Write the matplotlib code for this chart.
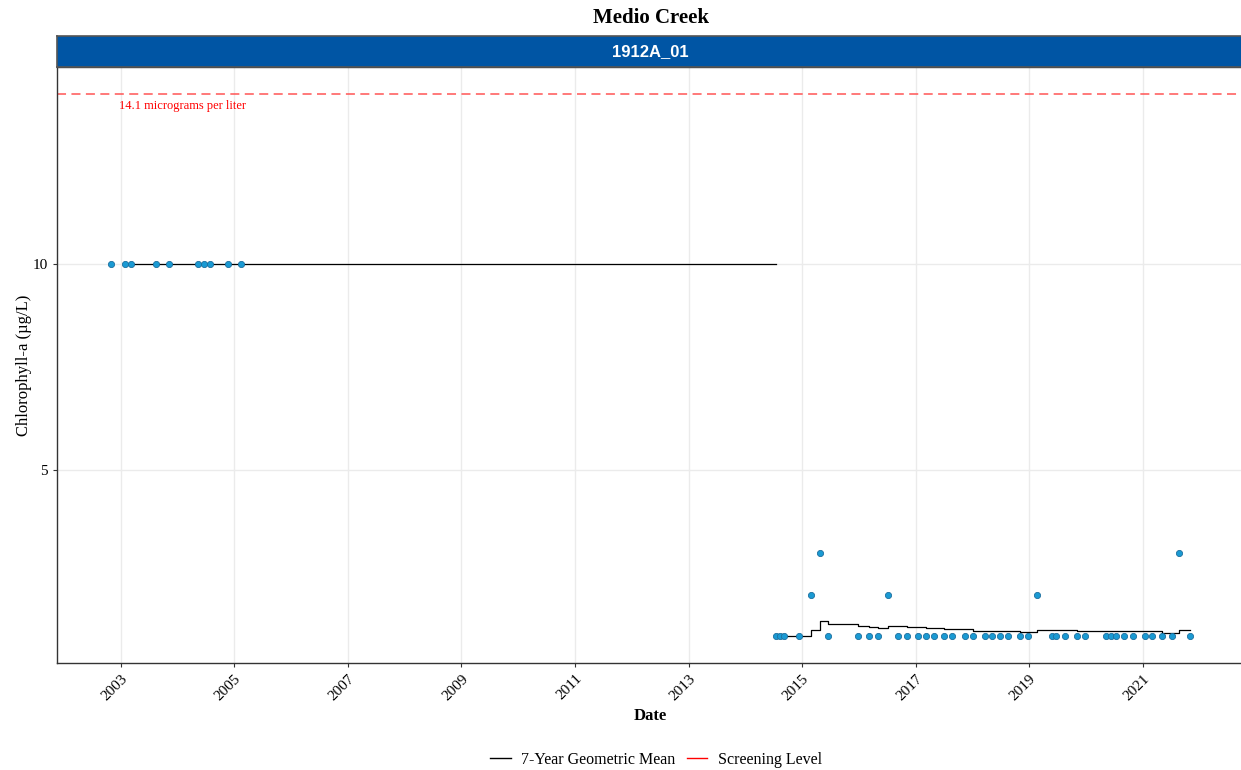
#!/usr/bin/env python

# Medio Creek chlorophyll-a, station 1912A_01.
#  Samples as points, 7-year geometric mean as a step line.

import numpy
import pandas
import matplotlib
matplotlib.use('Agg')
import matplotlib.pyplot as plt
import matplotlib.dates as mdates
from matplotlib.lines import Line2D

# Samples (date, value in ug/L)
early_dates = ["2002-10-30", "2003-01-31", "2003-03-10", "2003-08-18", "2003-11-07",
               "2004-05-14", "2004-06-21", "2004-07-30", "2004-11-18", "2005-02-15"]
early_vals = [10, 10, 10, 10, 10, 10, 10, 10, 10, 10]

late_dates = ["2014-07-18", "2014-08-13", "2014-09-08", "2014-12-15", "2015-02-28",
              "2015-04-27", "2015-06-19", "2015-12-29", "2016-03-09", "2016-05-02",
              "2016-07-06", "2016-09-06", "2016-11-07", "2017-01-17", "2017-03-09",
              "2017-04-28", "2017-06-29", "2017-08-23", "2017-11-15", "2018-01-04",
              "2018-03-26", "2018-05-05", "2018-06-28", "2018-08-20", "2018-11-03",
              "2018-12-23", "2019-02-23", "2019-05-30", "2019-06-21", "2019-08-22",
              "2019-11-05", "2019-12-25", "2020-05-10", "2020-06-09", "2020-07-11",
              "2020-09-05", "2020-10-31", "2021-01-14", "2021-02-26", "2021-05-06",
              "2021-07-07", "2021-08-25", "2021-11-01"]
late_vals = [1, 1, 1, 1, 2,
             3, 1, 1, 1, 1,
             2, 1, 1, 1, 1,
             1, 1, 1, 1, 1,
             1, 1, 1, 1, 1,
             1, 2, 1, 1, 1,
             1, 1, 1, 1, 1,
             1, 1, 1, 1, 1,
             1, 3, 1]

# 7-year geometric mean (step changes)
gm_early_dates = ["2003-01-31", "2014-07-18"]
gm_early_vals = [10, 10]
gm_late_dates = ["2014-07-18", "2015-02-28", "2015-04-27", "2015-06-19", "2015-12-29",
                 "2016-03-09", "2016-05-02", "2016-07-06", "2016-09-06", "2016-11-07",
                 "2017-03-09", "2017-06-29", "2018-01-04", "2018-11-03", "2019-02-23",
                 "2019-11-05", "2021-05-06", "2021-08-25", "2021-11-01"]
gm_late_vals = [1.00, 1.15, 1.35, 1.29, 1.25,
                1.22, 1.19, 1.25, 1.23, 1.21,
                1.19, 1.16, 1.13, 1.10, 1.14,
                1.11, 1.07, 1.14, 1.14]

screening = 14.1
x_ticks = [2003, 2005, 2007, 2009, 2011, 2013, 2015, 2017, 2019, 2021]

serif = 'Liberation Serif'
plt.rcParams['font.family'] = serif

fig = plt.figure(figsize=(12.41, 7.70), dpi=100, facecolor='white')

W, H = 1241.0, 770.0
ax = fig.add_axes([57/W, 1-663/H, (1244-57)/W, (663-67)/H])
ax.set_facecolor('white')

xmin = pandas.Timestamp("2001-11-17")
xmax = pandas.Timestamp("2022-10-14")
ax.set_xlim(xmin, xmax)
ax.set_ylim(0.345, 14.755)

ax.set_xticks([pandas.Timestamp("%d-01-01" % y) for y in x_ticks])
ax.xaxis.set_major_formatter(mdates.DateFormatter('%Y'))
ax.set_yticks([5, 10])
ax.grid(True, color='#ebebeb', linewidth=1.0, zorder=0)
ax.set_axisbelow(True)
for lab in ax.get_xticklabels():
    lab.set_rotation(45)
    lab.set_ha('right')
    lab.set_rotation_mode('anchor')
ax.tick_params(axis='both', labelsize=11, colors='#333333', length=3,
               labelcolor='black')
for s in ax.spines.values():
    s.set_color('#333333')
    s.set_linewidth(1.0)

# Screening level
ax.axhline(screening, color='#ff5555', linestyle=(0, (5, 3)), linewidth=1.3,
           alpha=0.85, zorder=2)
ax.text(pandas.Timestamp("2002-12-20"), 13.80, "14.1 micrograms per liter",
        color='red', fontsize=9, ha='left', va='center', family=serif)

# Geometric mean
ax.step(pandas.to_datetime(gm_early_dates), gm_early_vals, where='post',
        color='black', linewidth=0.9, zorder=3)
ax.step(pandas.to_datetime(gm_late_dates), gm_late_vals, where='post',
        color='black', linewidth=0.9, zorder=3)

# Samples
ax.scatter(pandas.to_datetime(early_dates), early_vals, s=20,
           facecolor='#1a9ad3', edgecolor='#1d6f9e', linewidth=0.6, zorder=4)
ax.scatter(pandas.to_datetime(late_dates), late_vals, s=20,
           facecolor='#1a9ad3', edgecolor='#1d6f9e', linewidth=0.6, zorder=4)

ax.set_xlabel('Date', fontsize=12, fontweight='bold', labelpad=4)
ax.set_ylabel('Chlorophyll-a (\u00b5g/L)', fontsize=12, labelpad=0.5)

# Facet strip
sx = fig.add_axes([57/W, 1-67/H, (1244-57)/W, 31/H])
sx.set_xticks([])
sx.set_yticks([])
sx.set_facecolor('#0055a4')
for s in sx.spines.values():
    s.set_color('#555555')
    s.set_linewidth(1.2)
sx.text(0.5, 0.5, '1912A_01', color='white', fontsize=12, fontweight='bold',
        ha='center', va='center', family='Liberation Sans',
        transform=sx.transAxes)

fig.text(651/W, 1-18/H, 'Medio Creek', fontsize=15, fontweight='bold',
         ha='center', va='center', family=serif)

handles = [Line2D([], [], color='black', linewidth=1.0),
           Line2D([], [], color='red', linewidth=1.0)]
fig.legend(handles, ['7-Year Geometric Mean', 'Screening Level'],
           loc='center', bbox_to_anchor=(656/W, 1-760/H), ncol=2,
           frameon=False, fontsize=11.5, handlelength=1.3, columnspacing=0.7,
           handletextpad=0.65)

fig.savefig('out.png', dpi=100, facecolor='white')
